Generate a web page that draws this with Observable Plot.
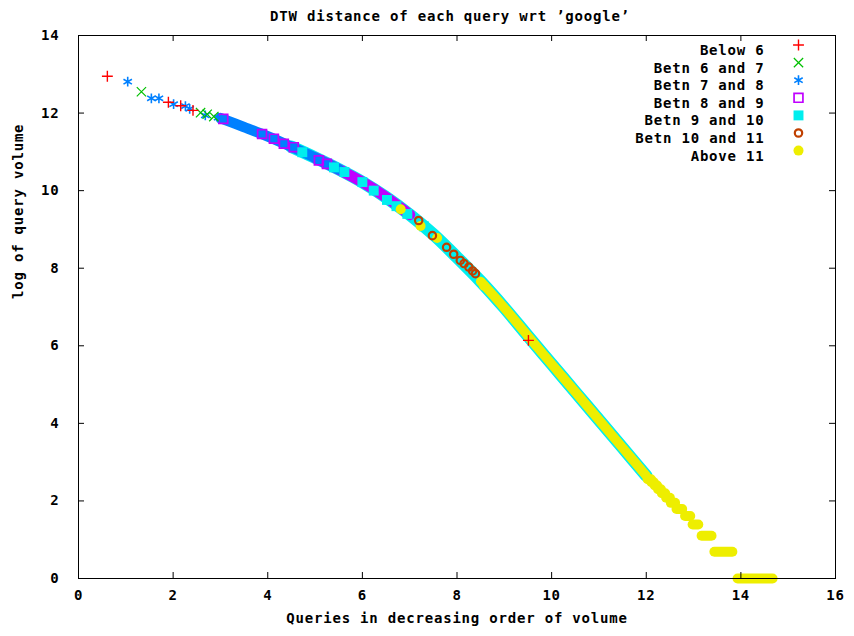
<!DOCTYPE html>
<html><head><meta charset="utf-8">
<script src="https://cdn.jsdelivr.net/npm/d3@7"></script>
<script src="https://cdn.jsdelivr.net/npm/@observablehq/plot@0.6"></script>
<style>
body{margin:0;background:#fff}
svg{display:block}
svg text{letter-spacing:0.8px}
</style>
</head><body><div id="chart"></div>
<script>
// ---------- text ----------
const title = "DTW distance of each query wrt \u2019google\u2019";
const xLabel = "Queries in decreasing order of volume";
const yLabel = "log of query volume";
const xTicks = [0, 2, 4, 6, 8, 10, 12, 14, 16];
const yTicks = [0, 2, 4, 6, 8, 10, 12, 14];

// ---------- series ----------
const categories = ["Below 6", "Betn 6 and 7", "Betn 7 and 8", "Betn 8 and 9", "Betn 9 and 10", "Betn 10 and 11", "Above 11"];
const colors = ["#ff0000", "#00c000", "#0080ff", "#c000ff", "#00eeee", "#c04000", "#eeee00"];

// centre line of the dense band of points
const curveX = [3.0, 3.5, 4.0, 4.5, 5.0, 5.5, 6.0, 6.5, 7.0, 7.5, 8.0, 8.5, 9.0, 9.5, 10.0, 10.5, 11.0, 11.5, 12.0];
const curveY = [11.87, 11.64, 11.40, 11.13, 10.85, 10.55, 10.22, 9.83, 9.38, 8.87, 8.28, 7.66, 6.98, 6.25, 5.53, 4.81, 4.09, 3.37, 2.65];

// where each category forms a solid band along that line
const bandCategory = ["Betn 9 and 10", "Betn 8 and 9", "Betn 7 and 8", "Above 11"];
const bandFrom = [4.5, 5.0, 3.0, 8.5];
const bandTo = [12.0, 7.0, 5.5, 12.0];

// separately visible points
const below6X = [0.61, 1.90, 2.16, 2.42, 9.51];
const below6Y = [12.95, 12.28, 12.19, 12.07, 6.14];
const b67X = [1.33, 2.58, 2.72, 2.86];
const b67Y = [12.55, 12.01, 11.97, 11.91];
const b78X = [1.04, 1.54, 1.70, 2.01, 2.26, 2.35, 2.68, 2.95];
const b78Y = [12.81, 12.38, 12.38, 12.23, 12.18, 12.11, 11.94, 11.88];
const b89X = [3.06, 3.88, 4.13, 4.34, 4.55, 5.08, 5.25];
const b89Y = [11.85, 11.46, 11.34, 11.21, 11.12, 10.78, 10.69];
const b910X = [4.73, 5.40, 5.62, 6.00, 6.24, 6.52, 6.72, 6.95, 7.30];
const b910Y = [10.99, 10.60, 10.48, 10.22, 10.00, 9.76, 9.60, 9.40, 9.08];
const b1011X = [7.19, 7.48, 7.78, 7.93, 8.07, 8.15, 8.25, 8.33, 8.39];
const b1011Y = [9.23, 8.84, 8.54, 8.36, 8.20, 8.12, 8.03, 7.93, 7.86];
const above11X = [6.81, 7.23, 7.58, 8.57];
const above11Y = [9.52, 9.09, 8.78, 7.55];

// low-volume tail: runs of "Above 11" points at the same level
const stairY = [0, 0.69, 1.10, 1.39, 1.61, 1.79, 1.95, 2.08, 2.20, 2.30, 2.40, 2.48, 2.56];
const stairX1 = [13.93, 13.44, 13.17, 12.98, 12.82, 12.64, 12.52, 12.42, 12.33, 12.25, 12.18, 12.11, 12.03];
const stairX2 = [14.67, 13.82, 13.38, 13.10, 12.93, 12.76, 12.61, 12.50, 12.40, 12.31, 12.23, 12.16, 12.10];

// ---------- build ----------
const curve = curveX.map((x, i) => ({x, y: curveY[i]}));
const zip = (xs, ys) => xs.map((x, i) => ({x, y: ys[i]}));
const pts = [
  zip(below6X, below6Y), zip(b67X, b67Y), zip(b78X, b78Y), zip(b89X, b89Y),
  zip(b910X, b910Y), zip(b1011X, b1011Y), zip(above11X, above11Y)
];
const stairs = stairY.map((y, i) => ({y, x1: stairX1[i], x2: stairX2[i]}));

const bandWidth = {"Betn 9 and 10": 12.5, "Betn 8 and 9": 11, "Betn 7 and 8": 10.5, "Above 11": 9.5};
const bandMarks = bandCategory.map((c, i) => Plot.line(curve, {
  x: "x", y: "y",
  filter: d => d.x >= bandFrom[i] && d.x <= bandTo[i],
  curve: "catmull-rom",
  stroke: colors[categories.indexOf(c)],
  strokeWidth: bandWidth[c],
  strokeLinecap: "round"
}));

function symbolOpts(i) {
  const c = colors[i];
  switch (i) {
    case 0: return {symbol: "plus", r: 3.6, stroke: c, strokeWidth: 1.4};
    case 1: return {symbol: "times", r: 4.3, stroke: c, strokeWidth: 1.2};
    case 2: return {symbol: "asterisk", r: 4.6, stroke: c, strokeWidth: 1.6};
    case 3: return {symbol: "square", r: 5, stroke: c, fill: "none", strokeWidth: 1.7};
    case 4: return {symbol: "square", r: 5.6, fill: c, stroke: "none"};
    case 5: return {symbol: "circle", r: 3.7, stroke: c, fill: "none", strokeWidth: 2.2};
    case 6: return {symbol: "circle", r: 5, fill: c, stroke: "none"};
  }
}

const drawOrder = [3, 4, 6, 5, 2, 1, 0];
const pointMarks = drawOrder.map(i => Plot.dot(pts[i], {x: "x", y: "y", ...symbolOpts(i)}));

const legendMarks = categories.flatMap((c, i) => [
  Plot.text([c], {frameAnchor: "top-right", dx: -71, dy: 9.5 + 17.6 * i, textAnchor: "end", fill: "black"}),
  Plot.dot([c], {frameAnchor: "top-right", dx: -37, dy: 9.5 + 17.6 * i, ...symbolOpts(i)})
]);

const chart = Plot.plot({
  width: 854,
  height: 636,
  marginLeft: 78,
  marginRight: 19,
  marginTop: 35,
  marginBottom: 58,
  style: {fontFamily: "'DejaVu Sans Mono', monospace", fontWeight: "bold", fontSize: "14px", background: "#fff"},
  x: {domain: [0, 16]},
  y: {domain: [0, 14]},
  marks: [
    ...bandMarks,
    Plot.link(stairs, {x1: "x1", x2: "x2", y1: "y", y2: "y", stroke: colors[6], strokeWidth: 10, strokeLinecap: "round"}),
    ...pointMarks,
    // inward ticks on all four sides
    Plot.ruleX(xTicks, {x: d => d, insetTop: 543 - 6, stroke: "black"}),
    Plot.ruleX(xTicks, {x: d => d, insetBottom: 543 - 6, stroke: "black"}),
    Plot.ruleY(yTicks, {y: d => d, insetRight: 757 - 6, stroke: "black"}),
    Plot.ruleY(yTicks, {y: d => d, insetLeft: 757 - 6, stroke: "black"}),
    Plot.frame({stroke: "black"}),
    Plot.axisX(xTicks, {tickSize: 0, tickPadding: 12, label: null, fill: "black"}),
    Plot.axisY(yTicks, {tickSize: 0, tickPadding: 19, label: null, fill: "black"}),
    Plot.text([xLabel], {frameAnchor: "bottom", dy: 44, fill: "black"}),
    Plot.text([yLabel], {frameAnchor: "left", dx: -60, dy: -8, rotate: -90, fill: "black"}),
    Plot.text([title], {frameAnchor: "top", dx: -7, dy: -24, fill: "black"}),
    ...legendMarks
  ]
});
document.getElementById("chart").append(chart);
</script>
</body></html>
